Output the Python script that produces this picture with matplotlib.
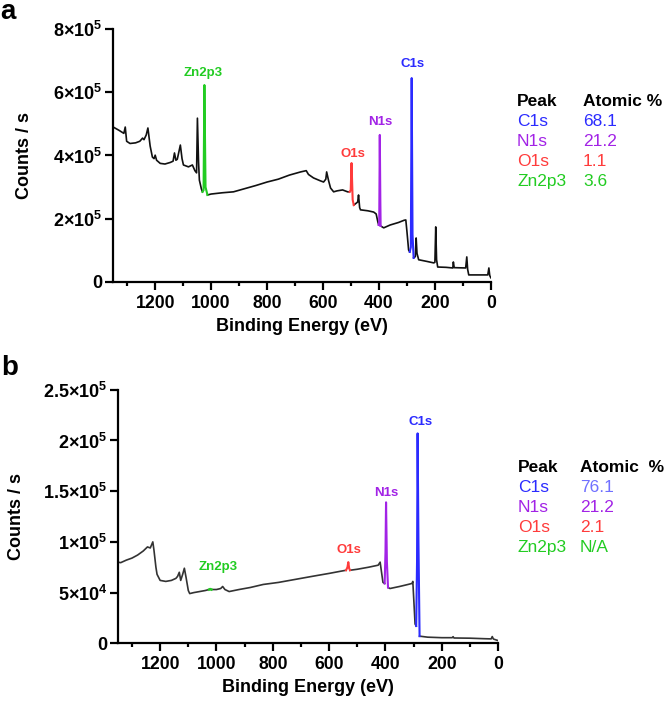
import matplotlib
matplotlib.use("Agg")
import matplotlib.pyplot as plt
from matplotlib.ticker import FixedLocator, FixedFormatter

plt.rcParams['font.family'] = ['Liberation Sans', 'DejaVu Sans']
plt.rcParams['mathtext.fontset'] = 'custom'
plt.rcParams['mathtext.rm'] = 'Liberation Sans:bold'
plt.rcParams['mathtext.bf'] = 'Liberation Sans:bold'
plt.rcParams['mathtext.it'] = 'Liberation Sans:bold'

# ---------------- Panel a data ----------------
a_bg_e = [1350, 1330, 1312, 1307, 1302, 1290, 1270, 1255, 1245, 1240, 1232, 1226, 1218, 1210, 1204,
          1200, 1195, 1182, 1165, 1146, 1136, 1131, 1126, 1121, 1110, 1104, 1099, 1081, 1067, 1058,
          1052, 1049, 1045, 1042, 1035, 1031]
a_bg_c = [490e3, 480e3, 470e3, 490e3, 445e3, 438e3, 440e3, 445e3, 455e3, 450e3, 465e3, 487e3, 430e3, 395e3, 390e3,
          401e3, 385e3, 375e3, 373e3, 378e3, 382e3, 408e3, 385e3, 388e3, 433e3, 390e3, 370e3, 364e3, 370e3, 352e3,
          345e3, 518e3, 380e3, 322e3, 295e3, 285e3]
a_zn_e = [1031, 1027, 1024, 1020, 1013]
a_zn_c = [285e3, 290e3, 623e3, 300e3, 275e3]
a_mid_e = [1013, 1000, 960, 920, 880, 840, 800, 760, 720, 680, 660, 652, 634, 610, 598, 590, 587, 580,
           573, 562, 550, 530, 512, 505]
a_mid_c = [275e3, 278e3, 282e3, 285e3, 295e3, 305e3, 316e3, 325e3, 338e3, 348e3, 352e3, 340e3, 329e3,
           320e3, 316e3, 325e3, 348e3, 320e3, 297e3, 285e3, 288e3, 291e3, 285e3, 285e3]
a_o_e = [505, 501, 498, 494, 490]
a_o_c = [285e3, 290e3, 376e3, 260e3, 243e3]
a_on_e = [490, 480, 476, 473, 469, 466, 440, 419, 410, 404, 401]
a_on_c = [243e3, 250e3, 253e3, 275e3, 235e3, 228e3, 225e3, 221e3, 215e3, 190e3, 180e3]
a_n_e = [401, 399, 397, 395, 394]
a_n_c = [180e3, 190e3, 465e3, 250e3, 177e3]
a_nc_e = [394, 383, 360, 330, 310, 304, 300, 294, 290]
a_nc_c = [177e3, 171e3, 180e3, 188e3, 195e3, 196e3, 160e3, 101e3, 95e3]
a_c_e = [290, 286, 283, 280, 276]
a_c_c = [95e3, 110e3, 645e3, 150e3, 76e3]
a_end_e = [276, 270, 267, 264, 258, 230, 204, 200, 197, 194, 190, 160, 136, 134, 131, 90, 86, 83, 79,
           40, 11, 7, 4, 0]
a_end_c = [76e3, 80e3, 139e3, 90e3, 70e3, 65e3, 60e3, 62e3, 174e3, 70e3, 47e3, 46e3, 44e3, 63e3, 45e3,
           44e3, 79e3, 40e3, 22e3, 22e3, 22e3, 44e3, 20e3, 13e3]

# ---------------- Panel b data ----------------
b_bg_e = [1350, 1340, 1320, 1300, 1280, 1260, 1245, 1235, 1226, 1222, 1215, 1211, 1200, 1180, 1160,
          1144, 1138, 1132, 1127, 1120, 1114, 1108, 1100, 1095, 1080, 1060, 1040, 1026]
b_bg_c = [80e3, 79.5e3, 82e3, 84e3, 87e3, 91e3, 95e3, 94e3, 100e3, 92e3, 75e3, 68e3, 62e3, 61e3, 62e3,
          64e3, 66e3, 70e3, 62e3, 68e3, 74e3, 65e3, 52e3, 49e3, 50e3, 51e3, 52e3, 53e3]
b_zn_e = [1026, 1022, 1018]
b_zn_c = [53e3, 53.5e3, 53e3]
b_mid_e = [1018, 1000, 985, 978, 970, 955, 920, 880, 834, 780, 720, 660, 598, 560, 540]
b_mid_c = [53e3, 53e3, 54e3, 56e3, 53e3, 51e3, 53e3, 55e3, 58e3, 60e3, 63e3, 66e3, 69e3, 71e3, 72e3]
b_o_e = [540, 535, 532, 529, 526]
b_o_c = [72e3, 75e3, 80e3, 74e3, 72e3]
b_on_e = [526, 500, 460, 426, 419, 414, 409, 403]
b_on_c = [72e3, 73e3, 75e3, 77e3, 80e3, 70e3, 60e3, 59e3]
b_n_e = [403, 400, 398, 395, 391]
b_n_c = [59e3, 90e3, 139e3, 80e3, 55e3]
b_nc_e = [391, 384, 350, 320, 306, 303, 299, 295, 291]
b_nc_c = [55e3, 54e3, 56e3, 58e3, 59e3, 61e3, 40e3, 19e3, 17e3]
b_c_e = [291, 288, 286, 283, 279]
b_c_c = [17e3, 80e3, 207e3, 100e3, 7e3]
b_end_e = [279, 250, 200, 163, 160, 157, 100, 50, 25, 21, 17, 0]
b_end_c = [7e3, 6e3, 5.5e3, 5.5e3, 6.5e3, 5.2e3, 5e3, 4.5e3, 4.3e3, 6.6e3, 4.2e3, 2.6e3]

x_ticks = [0, 200, 400, 600, 800, 1000, 1200]
x_ticklabels = ['0', '200', '400', '600', '800', '1000', '1200']
x_minor = [100, 300, 500, 700, 900, 1100, 1300]
a_yticks = [0, 2e5, 4e5, 6e5, 8e5]
a_yticklabels = ['0', r'$2{\times}10^{5}$', r'$4{\times}10^{5}$', r'$6{\times}10^{5}$', r'$8{\times}10^{5}$']
b_yticks = [0, 5e4, 1e5, 1.5e5, 2e5, 2.5e5]
b_yticklabels = ['0', r'$5{\times}10^{4}$', r'$1{\times}10^{5}$', r'$1.5{\times}10^{5}$',
                 r'$2{\times}10^{5}$', r'$2.5{\times}10^{5}$']

peaks = ['C1s', 'N1s', 'O1s', 'Zn2p3']
a_atomic = ['68.1', '21.2', '1.1', '3.6']
b_atomic = ['76.1', '21.2', '2.1', 'N/A']

# peak label positions (energy, counts)
a_label_pos = {'C1s': (279, 690e3), 'N1s': (397, 505e3), 'O1s': (494, 405e3), 'Zn2p3': (1028, 660e3)}
b_label_pos = {'C1s': (277, 218e3), 'N1s': (398, 148e3), 'O1s': (529, 92e3), 'Zn2p3': (995, 75e3)}

C_BLUE = '#2b2bff'
C_PURPLE = '#a223e6'
C_RED = '#ff3b3b'
C_GREEN = '#22cc22'
peak_colors = {'C1s': C_BLUE, 'N1s': C_PURPLE, 'O1s': C_RED, 'Zn2p3': C_GREEN}

fig = plt.figure(figsize=(6.66, 7.10), dpi=100)
ax_a = fig.add_axes([0.170, 0.603, 0.567, 0.356])
ax_b = fig.add_axes([0.177, 0.094, 0.571, 0.357])


def style_axes(ax, yticks, yticklabels, ymax, ylabel_x):
    ax.set_xlim(1350, 0)
    ax.set_ylim(0, ymax)
    for s in ['top', 'right']:
        ax.spines[s].set_visible(False)
    for s in ['left', 'bottom']:
        ax.spines[s].set_linewidth(1.6)
    ax.xaxis.set_major_locator(FixedLocator(x_ticks))
    ax.xaxis.set_major_formatter(FixedFormatter(x_ticklabels))
    ax.xaxis.set_minor_locator(FixedLocator(x_minor))
    ax.yaxis.set_major_locator(FixedLocator(yticks))
    ax.yaxis.set_major_formatter(FixedFormatter(yticklabels))
    ax.tick_params(axis='both', which='major', direction='out', length=5.5, width=1.6)
    ax.tick_params(axis='both', which='minor', direction='out', length=3, width=1.6)
    ax.tick_params(axis='x', which='major', labelsize=12.7, pad=4)
    ax.tick_params(axis='y', which='major', labelsize=13, pad=2)
    for lab in ax.get_xticklabels() + ax.get_yticklabels():
        lab.set_fontweight('bold')
    ax.set_xlabel('Binding Energy (eV)', fontsize=13, fontweight='bold', labelpad=4)
    ax.set_ylabel('Counts / s', fontsize=13, fontweight='bold')
    ax.yaxis.set_label_coords(ylabel_x, 0.5)


# Panel a
lw = 1.2
k = '#111111'
for e, c in [(a_bg_e, a_bg_c), (a_mid_e, a_mid_c), (a_on_e, a_on_c), (a_nc_e, a_nc_c), (a_end_e, a_end_c)]:
    ax_a.plot(e, c, color=k, lw=lw)
ax_a.plot(a_zn_e, a_zn_c, color=C_GREEN, lw=lw + 0.3)
ax_a.plot(a_o_e, a_o_c, color=C_RED, lw=lw + 0.3)
ax_a.plot(a_n_e, a_n_c, color=C_PURPLE, lw=lw + 0.3)
ax_a.plot(a_c_e, a_c_c, color=C_BLUE, lw=lw + 0.3)
style_axes(ax_a, a_yticks, a_yticklabels, 8e5, -0.212)
for p in peaks:
    x, y = a_label_pos[p]
    ax_a.text(x, y, p, color=peak_colors[p], fontsize=9.5, fontweight='bold', ha='center', va='center')

# Panel b
k2 = '#333333'
for e, c in [(b_bg_e, b_bg_c), (b_mid_e, b_mid_c), (b_on_e, b_on_c), (b_nc_e, b_nc_c), (b_end_e, b_end_c)]:
    ax_b.plot(e, c, color=k2, lw=lw)
ax_b.plot(b_zn_e, b_zn_c, color=C_GREEN, lw=lw + 0.6)
ax_b.plot(b_o_e, b_o_c, color=C_RED, lw=lw + 0.3)
ax_b.plot(b_n_e, b_n_c, color=C_PURPLE, lw=lw + 0.3)
ax_b.plot(b_c_e, b_c_c, color=C_BLUE, lw=lw + 0.3)
style_axes(ax_b, b_yticks, b_yticklabels, 2.5e5, -0.245)
for p in peaks:
    x, y = b_label_pos[p]
    ax_b.text(x, y, p, color=peak_colors[p], fontsize=9.5, fontweight='bold', ha='center', va='center')

# Tables
W, H = 666, 710


def table(x0, x1, y0, dy, values, header2, value_colors):
    fig.text(x0 / W, 1 - y0 / H, 'Peak', fontsize=12.5, fontweight='bold', ha='left', va='center')
    fig.text(x1 / W, 1 - y0 / H, header2, fontsize=12.5, fontweight='bold', ha='left', va='center')
    for i, p in enumerate(peaks):
        yy = 1 - (y0 + dy * (i + 1)) / H
        fig.text(x0 / W, yy, p, fontsize=12.5, color=peak_colors[p], ha='left', va='center')
        fig.text(x1 / W, yy, values[i], fontsize=12.5, color=value_colors[i], ha='left', va='center')


table(517, 583, 102, 19.8, a_atomic, 'Atomic %', [C_BLUE, C_PURPLE, C_RED, C_GREEN])
table(518, 580, 468, 19.8, b_atomic, 'Atomic  %', ['#7070ff', C_PURPLE, C_RED, C_GREEN])

fig.text(8 / W, 1 - 12 / H, 'a', fontsize=20, fontweight='bold', ha='center', va='center')
fig.text(10 / W, 1 - 368 / H, 'b', fontsize=20, fontweight='bold', ha='center', va='center')

fig.savefig('out.png', dpi=100)
